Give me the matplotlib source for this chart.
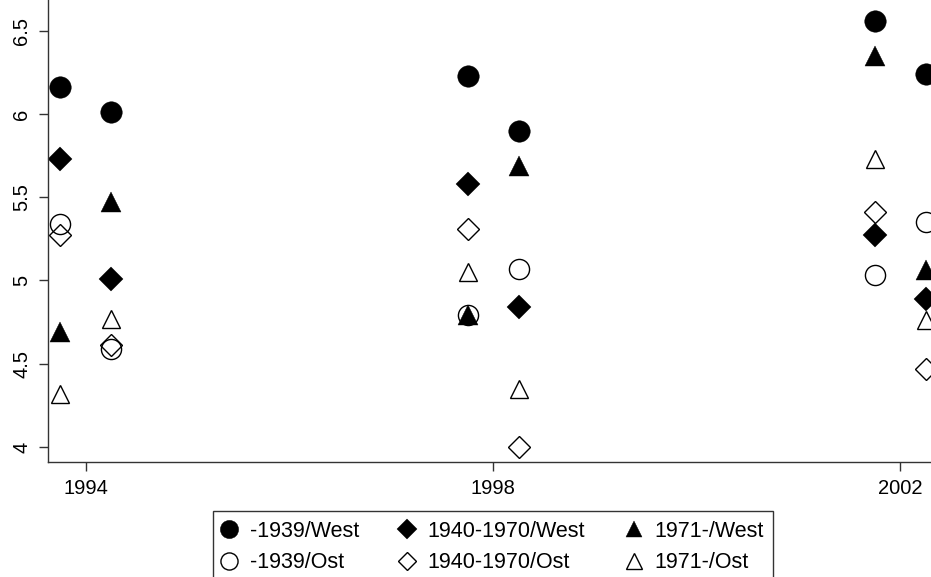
import numpy as np
import matplotlib.pyplot as plt
from matplotlib.lines import Line2D

plt.rcParams['font.family'] = ['Liberation Sans', 'DejaVu Sans']

# survey points: two per year tick (slightly before / after)
wave_x = [1993.75, 1994.25, 1997.75, 1998.25, 2001.75, 2002.25]
year_ticks = [1994, 1998, 2002]
y_ticks = [4, 4.5, 5, 5.5, 6, 6.5]
y_ticklabels = ["4", "4.5", "5", "5.5", "6", "6.5"]

west_1939 = [6.16, 6.01, 6.23, 5.90, 6.56, 6.24]
ost_1939 = [5.34, 4.59, 4.79, 5.07, 5.03, 5.35]
west_1940 = [5.73, 5.01, 5.58, 4.84, 5.27, 4.89]
ost_1940 = [5.27, 4.61, 5.31, 4.00, 5.41, 4.47]
west_1971 = [4.69, 5.47, 4.79, 5.69, 6.35, 5.06]
ost_1971 = [4.32, 4.77, 5.05, 4.35, 5.73, 4.76]

# (label, values, marker, size, filled)
series = [
    ("-1939/West", west_1939, "o", 15.5, True),
    ("-1939/Ost", ost_1939, "o", 14.5, False),
    ("1940-1970/West", west_1940, "D", 12, True),
    ("1940-1970/Ost", ost_1940, "D", 11, False),
    ("1971-/West", west_1971, "^", 14, True),
    ("1971-/Ost", ost_1971, "^", 13, False),
]

fig = plt.figure(figsize=(9.31, 5.77), dpi=100)
ax = fig.add_axes([48 / 931, (577 - 462) / 577, 1 - 48 / 931, 462 / 577])

draw_order = [1, 3, 5, 0, 2, 4]
handles = [None] * len(series)
for i in draw_order:
    label, vals, mk, ms, filled = series[i]
    h, = ax.plot(wave_x, vals, linestyle="none", marker=mk, markersize=ms,
                 markerfacecolor="black" if filled else "none",
                 markeredgecolor="black", markeredgewidth=1.0 if not filled else 0.3,
                 clip_on=False, label=label)
    handles[i] = h

ax.set_xlim(1993.63, 2002.30)
ax.set_ylim(3.91, 6.684)
ax.set_xticks(year_ticks)
ax.set_xticklabels([str(y) for y in year_ticks], fontsize=14.5)
ax.set_yticks(y_ticks)
ax.set_yticklabels(y_ticklabels, fontsize=14.5, rotation=90, va="center")
ax.tick_params(length=6.5, width=1, color="#333333", pad=5.5)

for side in ["top", "right"]:
    ax.spines[side].set_visible(False)
for side in ["left", "bottom"]:
    ax.spines[side].set_linewidth(1)
    ax.spines[side].set_color("#333333")

leg = fig.legend(handles=handles, labels=[s[0] for s in series], ncol=3,
                 loc="upper left", bbox_to_anchor=(213 / 931, 1 - 511 / 577),
                 frameon=True, fancybox=False, fontsize=15.5, edgecolor="black",
                 handlelength=0.6, handletextpad=0.65, columnspacing=1.95,
                 borderpad=0.45, labelspacing=0.5, borderaxespad=0)
leg.get_frame().set_linewidth(1.0)
for lh in leg.legend_handles:
    lh.set_markersize(lh.get_markersize() * 0.85)

fig.savefig("out.png", dpi=100)
